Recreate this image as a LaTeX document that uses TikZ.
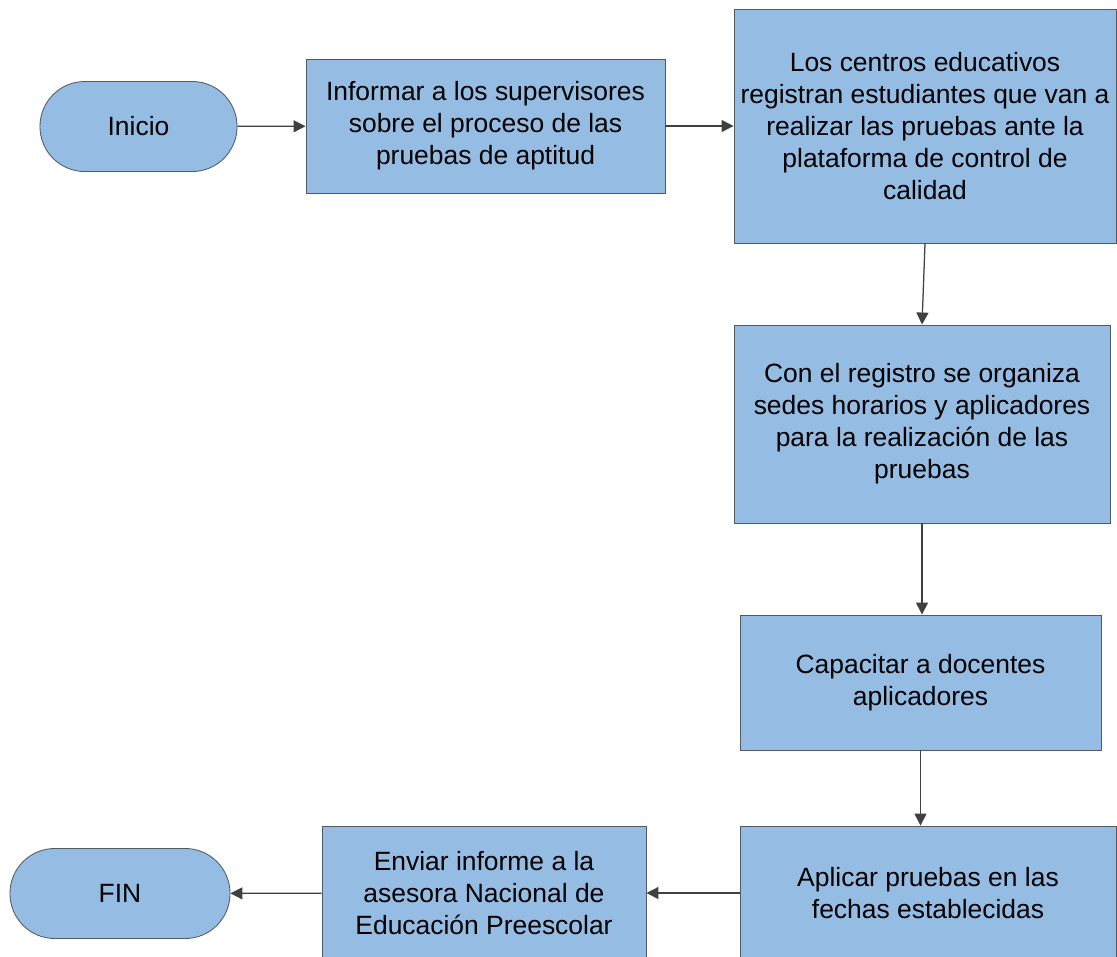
\documentclass[tikz,border=0pt]{standalone}
\usepackage{fontspec}
\setmainfont{Liberation Sans}
\usetikzlibrary{arrows.meta}
\definecolor{boxfill}{HTML}{95BDE4}
\definecolor{boxline}{HTML}{505A64}
\definecolor{arrowline}{HTML}{404040}

\begin{document}
\begin{tikzpicture}[
  x=0.025cm, y=-0.025cm,
  font=\fontsize{18.8}{22.8}\selectfont,
  terminal/.style={
    draw=boxline,
    fill=boxfill,
    line width=0.6pt,
    align=center,
    inner sep=0pt,
    minimum width=#1,
    minimum height=2.25cm,
    rounded corners=1.12cm
  },
  process/.style n args={2}{
    draw=boxline,
    fill=boxfill,
    line width=0.6pt,
    align=center,
    inner sep=0pt,
    minimum width=#1,
    minimum height=#2
  },
  arrow/.style={-{Triangle[length=3mm,width=3mm]},draw=arrowline,fill=arrowline,line width=0.9pt}
]
\useasboundingbox (0,0) rectangle (1117,956);

\node[terminal=4.925cm] (inicio) at (138.5,126.5) {Inicio};
\node[process={8.975cm}{3.35cm}] (informar) at (485.5,126) {Informar a los supervisores\\sobre el proceso de las\\pruebas de aptitud};
\node[process={9.55cm}{5.85cm}] (registran) at (925,126) {Los centros educativos\\registran estudiantes que van a\\realizar las pruebas ante la\\plataforma de control de\\calidad};
\node[process={9.4cm}{4.95cm}] (organiza) at (922,424) {Con el registro se organiza\\sedes horarios y aplicadores\\para la realización de las\\pruebas};
\node[process={9.025cm}{3.375cm}] (capacitar) at (920.5,682.5) {Capacitar a docentes\\aplicadores};
\node[process={9.4cm}{3.35cm}] (aplicar) at (928,893) {Aplicar pruebas en las\\fechas establecidas};
\node[process={8.1cm}{3.35cm}] (enviar) at (484,893) {Enviar informe a la\\asesora Nacional de\\Educación Preescolar};
\node[terminal=5.5cm] (fin) at (120,893.5) {FIN};

\draw[arrow] (inicio) -- (informar);
\draw[arrow] (informar) -- (informar -| registran.west);
\draw[arrow] (registran.south) -- (organiza.north);
\draw[arrow] (organiza.south) -- (organiza.south |- capacitar.north);
\draw[arrow] (capacitar.south) -- (capacitar.south |- aplicar.north);
\draw[arrow] (aplicar.west |- enviar) -- (enviar);
\draw[arrow] (enviar) -- (fin);
\end{tikzpicture}
\end{document}
